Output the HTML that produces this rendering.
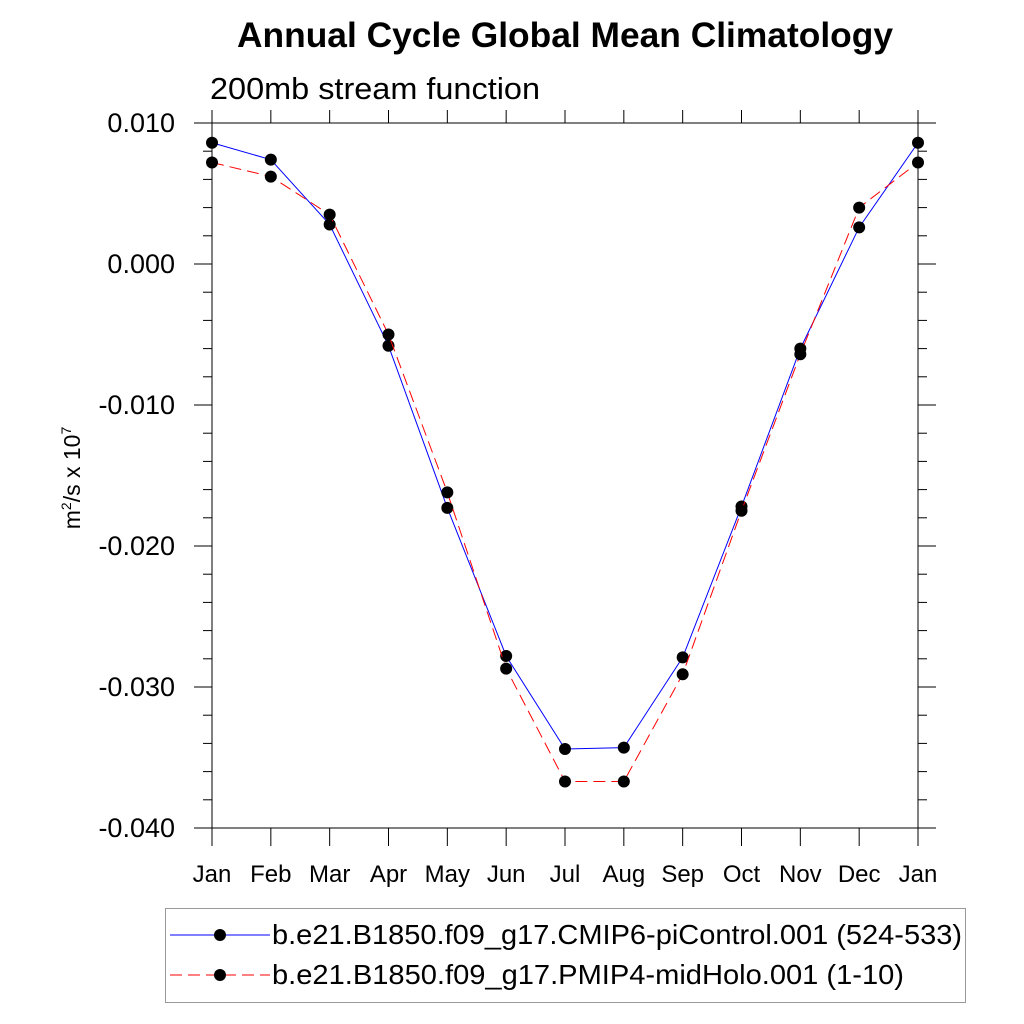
<!DOCTYPE html>
<html><head><meta charset="utf-8"><style>
body{margin:0;background:#fff}
svg{display:block;font-family:"Liberation Sans",sans-serif}
</style></head><body>
<svg id="chart" width="1024" height="1024" viewBox="0 0 1024 1024">
<text x="565" y="47" font-size="35" font-weight="bold" text-anchor="middle" textLength="656" lengthAdjust="spacingAndGlyphs">Annual Cycle Global Mean Climatology</text>
<text x="210" y="99" font-size="31" textLength="330" lengthAdjust="spacingAndGlyphs">200mb stream function</text>
<text transform="translate(80,478) rotate(-90)" font-size="23" text-anchor="middle">m<tspan dy="-9" font-size="14">2</tspan><tspan dy="9">/s x 10</tspan><tspan dy="-9" font-size="14">7</tspan></text>
<g id="axes"></g>
<g id="series"></g>
<g id="legend">
<rect x="165.5" y="908.5" width="800" height="94" fill="none" stroke="#999" stroke-width="1"/>
<g>
<line x1="170" y1="935" x2="270" y2="935" stroke="#0000ff" stroke-width="1"/>
<circle cx="220" cy="935" r="6" fill="#000"/>
<text x="272" y="944" font-size="28" textLength="690" lengthAdjust="spacingAndGlyphs">b.e21.B1850.f09_g17.CMIP6-piControl.001 (524-533)</text>
</g>
<g>
<line x1="170" y1="975" x2="270" y2="975" stroke="#ff0000" stroke-width="1" stroke-dasharray="12,6"/>
<circle cx="220" cy="975" r="6" fill="#000"/>
<text x="272" y="984" font-size="28" textLength="632" lengthAdjust="spacingAndGlyphs">b.e21.B1850.f09_g17.PMIP4-midHolo.001 (1-10)</text>
</g>
</g>
</svg>
<script>
const months=["Jan","Feb","Mar","Apr","May","Jun","Jul","Aug","Sep","Oct","Nov","Dec","Jan"];
const piControl=[0.0086,0.0074,0.0028,-0.0058,-0.0173,-0.0278,-0.0344,-0.0343,-0.0279,-0.0172,-0.0060,0.0026,0.0086];
const midHolo=[0.0072,0.0062,0.0035,-0.0050,-0.0162,-0.0287,-0.0367,-0.0367,-0.0291,-0.0175,-0.0064,0.0040,0.0072];
const yTicks=[0.010,0.000,-0.010,-0.020,-0.030,-0.040];
const yTickLabels=["0.010","0.000","-0.010","-0.020","-0.030","-0.040"];
const NS="http://www.w3.org/2000/svg";
const L=212,R=918,T=123,B=828,ymin=-0.04,ymax=0.01;
const xs=i=>L+(R-L)*i/(months.length-1);
const ys=v=>B-(v-ymin)/(ymax-ymin)*(B-T);
function mk(tag,attrs,parent){const e=document.createElementNS(NS,tag);for(const k in attrs)e.setAttribute(k,attrs[k]);parent.appendChild(e);return e;}
const ax=document.getElementById('axes');
const frame=mk('rect',{x:L,y:T,width:R-L,height:B-T,fill:'none',stroke:'#000','stroke-width':1},ax);


for(let v=ymin;v<=ymax+1e-9;v+=0.002){
  const y=ys(v);const major=Math.abs(Math.round(v*1000)%10)<0.5;const len=major?18:9;
  mk('line',{x1:L-len,y1:y,x2:L,y2:y,stroke:'#000','stroke-width':1},ax);
  mk('line',{x1:R,y1:y,x2:R+len,y2:y,stroke:'#000','stroke-width':1},ax);
}
yTicks.forEach((v,i)=>{
  const t=mk('text',{x:L-37,y:ys(v)+9,'font-size':27,'text-anchor':'end'},ax);
  t.textContent=yTickLabels[i];
  
  
});
months.forEach((m,i)=>{
  const x=xs(i);
  mk('line',{x1:x,y1:B,x2:x,y2:B+18,stroke:'#000','stroke-width':1},ax);
  mk('line',{x1:x,y1:T-13,x2:x,y2:T,stroke:'#000','stroke-width':1},ax);
  const t=mk('text',{x:x,y:882,'font-size':24,'text-anchor':'middle'},ax);
  t.textContent=m;
  
  
});
const sg=document.getElementById('series');
function draw(vals,color,dash,name){
  const g=mk('g',{},sg);
  
  
  const p=mk('polyline',{points:vals.map((v,i)=>xs(i)+','+ys(v)).join(' '),fill:'none',stroke:color,'stroke-width':1,'stroke-dasharray':dash},g);
  
  
  vals.forEach((v,i)=>{
    const c=mk('circle',{cx:xs(i),cy:ys(v),r:6,fill:'#000'},g);
    
    
  });
}
draw(piControl,'#0000ff','none','series-picontrol');
draw(midHolo,'#ff0000','12,6','series-midholo');
</script>
</body></html>
